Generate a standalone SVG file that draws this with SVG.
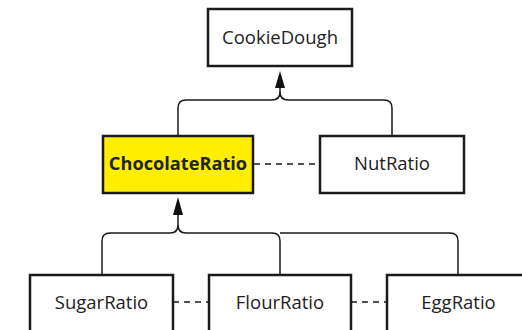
<svg xmlns="http://www.w3.org/2000/svg" width="522" height="330" viewBox="0 0 522 330">
  <style>
    .box { fill: #ffffff; stroke: #1a1a1a; stroke-width: 2.5; }
    .hl { fill: #ffee00; }
    .label { font-family: "Open Sans", "Noto Sans", sans-serif; font-size: 18.5px; fill: #222222; text-anchor: middle; }
    .bold { font-weight: bold; font-size: 18.2px; }
    .link { fill: none; stroke: #1a1a1a; stroke-width: 1.5; }
    .dash { fill: none; stroke: #1a1a1a; stroke-width: 1.5; stroke-dasharray: 6 5; }
  </style>

  <g id="connectors">
    <!-- ChocolateRatio and NutRatio feed CookieDough -->
    <path class="link" d="M178,136 V108 Q178,100 186,100 H272 Q280,100 280,92 V88"/>
    <path class="link" d="M392,137 V108 Q392,100 384,100 H288 Q280,100 280,92"/>
    <path d="M280,71 L285,88 L275,88 Z" fill="#111111"/>
    <!-- Sugar, Flour and Egg feed ChocolateRatio -->
    <path class="link" d="M102,275 V241 Q102,233 110,233 H170 Q178,233 178,225 V214"/>
    <path class="link" d="M280,275 V241 Q280,233 272,233 H186 Q178,233 178,225"/>
    <path class="link" d="M458,275 V241 Q458,233 450,233 H280"/>
    <path d="M178,197 L183,215 L173,215 Z" fill="#111111"/>
    <!-- sibling associations -->
    <line class="dash" x1="254" y1="164" x2="320" y2="164"/>
    <line class="dash" x1="173" y1="302" x2="209" y2="302"/>
    <line class="dash" x1="351" y1="302" x2="387" y2="302"/>
  </g>

  <g id="cookie-dough">
    <rect class="box" x="208" y="9" width="144" height="57"/>
    <text class="label" x="280" y="43.5">CookieDough</text>
  </g>
  <g id="chocolate-ratio">
    <rect class="box hl" x="103" y="136" width="150" height="57"/>
    <text class="label bold" x="178" y="170">ChocolateRatio</text>
  </g>
  <g id="nut-ratio">
    <rect class="box" x="320" y="136" width="144" height="57"/>
    <text class="label" x="392" y="170">NutRatio</text>
  </g>
  <g id="sugar-ratio">
    <rect class="box" x="30" y="275" width="143" height="60"/>
    <text class="label" x="101.5" y="309">SugarRatio</text>
  </g>
  <g id="flour-ratio">
    <rect class="box" x="209" y="275" width="142" height="60"/>
    <text class="label" x="280" y="309">FlourRatio</text>
  </g>
  <g id="egg-ratio">
    <rect class="box" x="387" y="275" width="143" height="60"/>
    <text class="label" x="458.5" y="309">EggRatio</text>
  </g>
</svg>
